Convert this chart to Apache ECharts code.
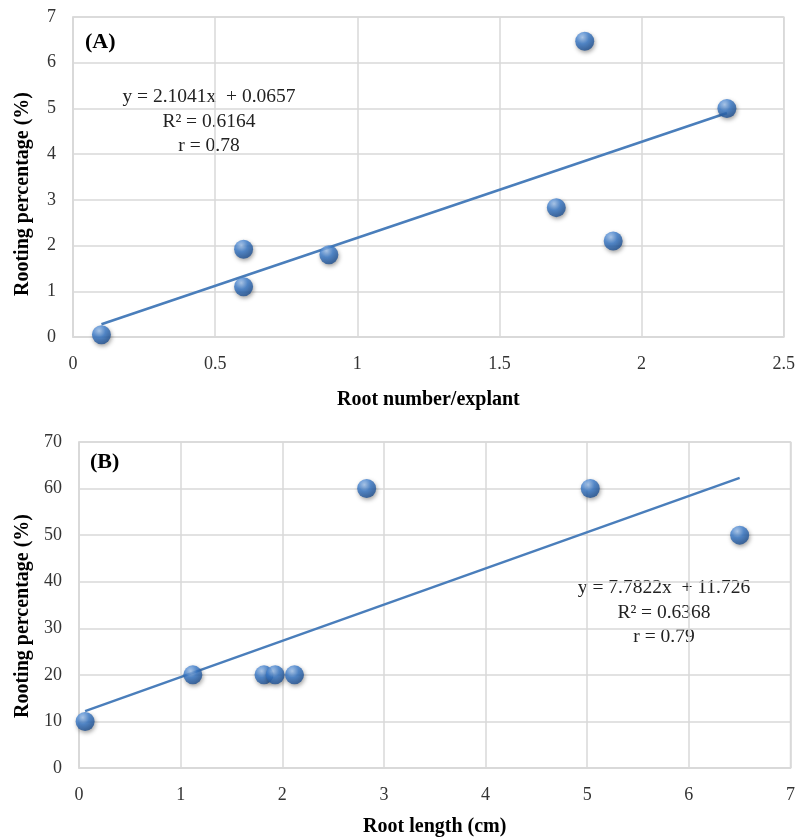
<!DOCTYPE html>
<html>
<head>
<meta charset="utf-8">
<script src="https://cdn.jsdelivr.net/npm/echarts@6/dist/echarts.min.js"></script>
<style>
  html, body { margin: 0; padding: 0; background: #fff; }
  #main { width: 798px; height: 838px; }
</style>
</head>
<body>
<div id="main"></div>
<script>
// (A) root number/explant vs rooting percentage
const rootNumber = [0.1, 0.6, 0.6, 0.9, 1.7, 1.8, 1.9, 2.3]
const rootingA = [0.05, 1.92, 1.1, 1.8, 2.83, 6.47, 2.1, 5.0]
const trendA = [[0.1, 0.28], [2.3, 4.9]]
const eqA = ['y = 2.1041x  + 0.0657', 'R² = 0.6164', 'r = 0.78']

// (B) root length vs rooting percentage
const rootLength = [0.06, 1.12, 1.82, 1.93, 2.12, 2.83, 5.03, 6.5]
const rootingB = [10, 20, 20, 20, 20, 60, 60, 50]
const trendB = [[0.06, 12.2], [6.5, 62.3]]
const eqB = ['y = 7.7822x  + 11.726', 'R² = 0.6368', 'r = 0.79']

const yTitle = 'Rooting percentage (%)'

const serif = 'Liberation Serif'
const gridColor = '#d9d9d9'
const lineColor = '#4a7ebb'

// blue sphere look
const ball = {
  color: {
    type: 'radial', x: 0.38, y: 0.3, r: 0.75,
    colorStops: [
      { offset: 0, color: '#a6c8f2' },
      { offset: 0.45, color: '#3a7bcb' },
      { offset: 1, color: '#1a4a8a' }
    ]
  },
  shadowBlur: 4,
  shadowColor: 'rgba(0,0,0,0.45)',
  shadowOffsetX: 1,
  shadowOffsetY: 2
}

function xAxis(idx, max, interval, name, gap) {
  return {
    type: 'value', gridIndex: idx, min: 0, max: max, interval: interval,
    name: name, nameLocation: 'middle', nameGap: gap,
    nameTextStyle: { fontFamily: serif, fontWeight: 'bold', fontSize: 20, color: '#000' },
    axisLine: { lineStyle: { color: gridColor, width: 1.5 } },
    axisTick: { show: false },
    axisLabel: { fontFamily: serif, fontSize: 18, color: '#333', margin: 18 },
    splitLine: { show: true, lineStyle: { color: gridColor, width: 1.5 } }
  }
}

function yAxis(idx, max, interval) {
  return {
    type: 'value', gridIndex: idx, min: 0, max: max, interval: interval,
    axisLine: { show: true, lineStyle: { color: gridColor, width: 1.5 } },
    axisTick: { show: false },
    axisLabel: { fontFamily: serif, fontSize: 18, color: '#333', margin: 17 },
    splitLine: { show: true, lineStyle: { color: gridColor, width: 1.5 } }
  }
}

function eqText(lines, cx, y0) {
  return lines.map((t, i) => ({
    type: 'text', x: cx, y: y0 + i * 24.5,
    style: { text: t, fontFamily: serif, fontSize: 19.5, fill: '#222', textAlign: 'center' }
  }))
}

function vTitle(cx, cy) {
  return {
    type: 'text', x: cx, y: cy, rotation: Math.PI / 2,
    style: {
      text: yTitle, fontFamily: serif, fontWeight: 'bold', fontSize: 20, fill: '#000',
      textAlign: 'center', textVerticalAlign: 'middle'
    }
  }
}

const chart = echarts.init(document.getElementById('main'))
chart.setOption({
  animation: false,
  grid: [
    { left: 73, top: 17, width: 711, height: 320, show: true, borderColor: gridColor, borderWidth: 1.5 },
    { left: 79, top: 442, width: 712, height: 328, show: true, borderColor: gridColor, borderWidth: 1.5 }
  ],
  xAxis: [
    xAxis(0, 2.5, 0.5, 'Root number/explant', 53),
    xAxis(1, 7, 1, 'Root length (cm)', 49)
  ],
  yAxis: [
    yAxis(0, 7, 1),
    yAxis(1, 70, 10)
  ],
  graphic: [
    { type: 'text', left: 85, top: 31, style: { text: '(A)', fontFamily: serif, fontWeight: 'bold', fontSize: 22, fill: '#000' } },
    { type: 'text', left: 90, top: 451, style: { text: '(B)', fontFamily: serif, fontWeight: 'bold', fontSize: 22, fill: '#000' } },
    vTitle(23, 194),
    vTitle(23, 616)
  ].concat(eqText(eqA, 209, 87), eqText(eqB, 664, 578)),
  series: [
    {
      type: 'line', xAxisIndex: 0, yAxisIndex: 0, data: trendA,
      symbol: 'none', lineStyle: { color: lineColor, width: 2.5 }, z: 2
    },
    {
      type: 'scatter', xAxisIndex: 0, yAxisIndex: 0,
      data: rootNumber.map((x, i) => [x, rootingA[i]]),
      symbolSize: 19, itemStyle: ball, z: 3
    },
    {
      type: 'line', xAxisIndex: 1, yAxisIndex: 1, data: trendB,
      symbol: 'none', lineStyle: { color: lineColor, width: 2.5 }, z: 2
    },
    {
      type: 'scatter', xAxisIndex: 1, yAxisIndex: 1,
      data: rootLength.map((x, i) => [x, rootingB[i]]),
      symbolSize: 19, itemStyle: ball, z: 3
    }
  ]
})
</script>
</body>
</html>
